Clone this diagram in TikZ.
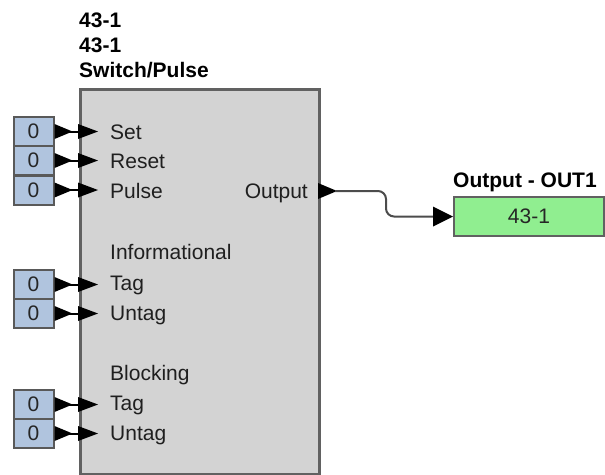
\documentclass[tikz,border=0pt]{standalone}
\usepackage{fontspec}
\setmainfont{Liberation Sans}
\begin{document}
\begin{tikzpicture}[x=1pt,y=-1pt,
  lbl/.style={anchor=base west,inner sep=0pt,text=black!88,font=\fontsize{21}{25}\selectfont},
  ttl/.style={anchor=base west,inner sep=0pt,text=black,font=\fontsize{21}{25}\selectfont\bfseries},
  inbox/.style={draw=black!65,line width=2pt,fill=lightsteel,minimum width=40pt,minimum height=29pt,inner sep=0pt,font=\fontsize{21}{25}\selectfont,text=black!85},
  conn/.style={line width=2pt,black},
  tri/.style={fill=black}
]
\definecolor{lightsteel}{HTML}{B0C4DE}
\definecolor{blockgray}{HTML}{D3D3D3}
\definecolor{outgreen}{HTML}{90EE90}
\useasboundingbox (0,0) rectangle (605,474);
\clip (0,0) rectangle (605,474);

% main block
\node[draw=black!62,line width=2.5pt,fill=blockgray,minimum width=239pt,minimum height=385pt,inner sep=0pt,anchor=north west] (blk) at (79,88) {};

% titles
\node[ttl] (t1) at (79,27) {43-1};
\node[ttl] (t2) at (79,52) {43-1};
\node[ttl] (t3) at (79,77) {Switch/Pulse};

% labels inside block
\node[lbl] (lset) at (110,139) {Set};
\node[lbl] (lres) at (110,168) {Reset};
\node[lbl] (lpul) at (110,198) {Pulse};
\node[lbl,anchor=base east] (lout) at (308,198) {Output};
\node[lbl] (linf) at (110,259) {Informational};
\node[lbl] (ltag1) at (110,290) {Tag};
\node[lbl] (lunt1) at (110,320) {Untag};
\node[lbl] (lblk) at (110,380) {Blocking};
\node[lbl] (ltag2) at (110,410) {Tag};
\node[lbl] (lunt2) at (110,440) {Untag};

% input value boxes and connectors
\foreach \n/\yy in {a/131.5,b/160.5,c/190,d/284.5,e/313.5,f/404.5,g/433.5}{
  \node[inbox] (in\n) at (33.5,\yy) {0};
  \coordinate (p\n) at (98,\yy);
  \draw[conn] (in\n.east) -- ([xshift=-18pt]p\n);
  \fill[tri] ([yshift=-7.5pt]in\n.east) -- ([xshift=18pt]in\n.east) -- ([yshift=7.5pt]in\n.east) -- cycle;
  \fill[tri] ([xshift=-20pt,yshift=-7.5pt]p\n) -- (p\n) -- ([xshift=-20pt,yshift=7.5pt]p\n) -- cycle;
}

% output box
\node[draw=black!62,line width=2pt,fill=outgreen,minimum width=150pt,minimum height=39pt,inner sep=0pt,anchor=north west,font=\fontsize{21}{25}\selectfont,text=black!85] (obox) at (453,196) {43-1};
\node[ttl] (otitle) at (453,187) {Output - OUT1};

% output connector
\coordinate (oport) at (318,191);
\coordinate (bend) at (386,191);
\fill[tri] ([yshift=-8pt]oport) -- ([xshift=19pt]oport) -- ([yshift=8pt]oport) -- cycle;
\draw[line width=2pt,black!70,rounded corners=8pt] ([xshift=17pt]oport) -- (bend) -- (bend |- obox.west) -- ([xshift=-18pt]obox.west);
\fill[tri] ([xshift=-20pt,yshift=-10pt]obox.west) -- (obox.west) -- ([xshift=-20pt,yshift=10pt]obox.west) -- cycle;
\end{tikzpicture}
\end{document}
